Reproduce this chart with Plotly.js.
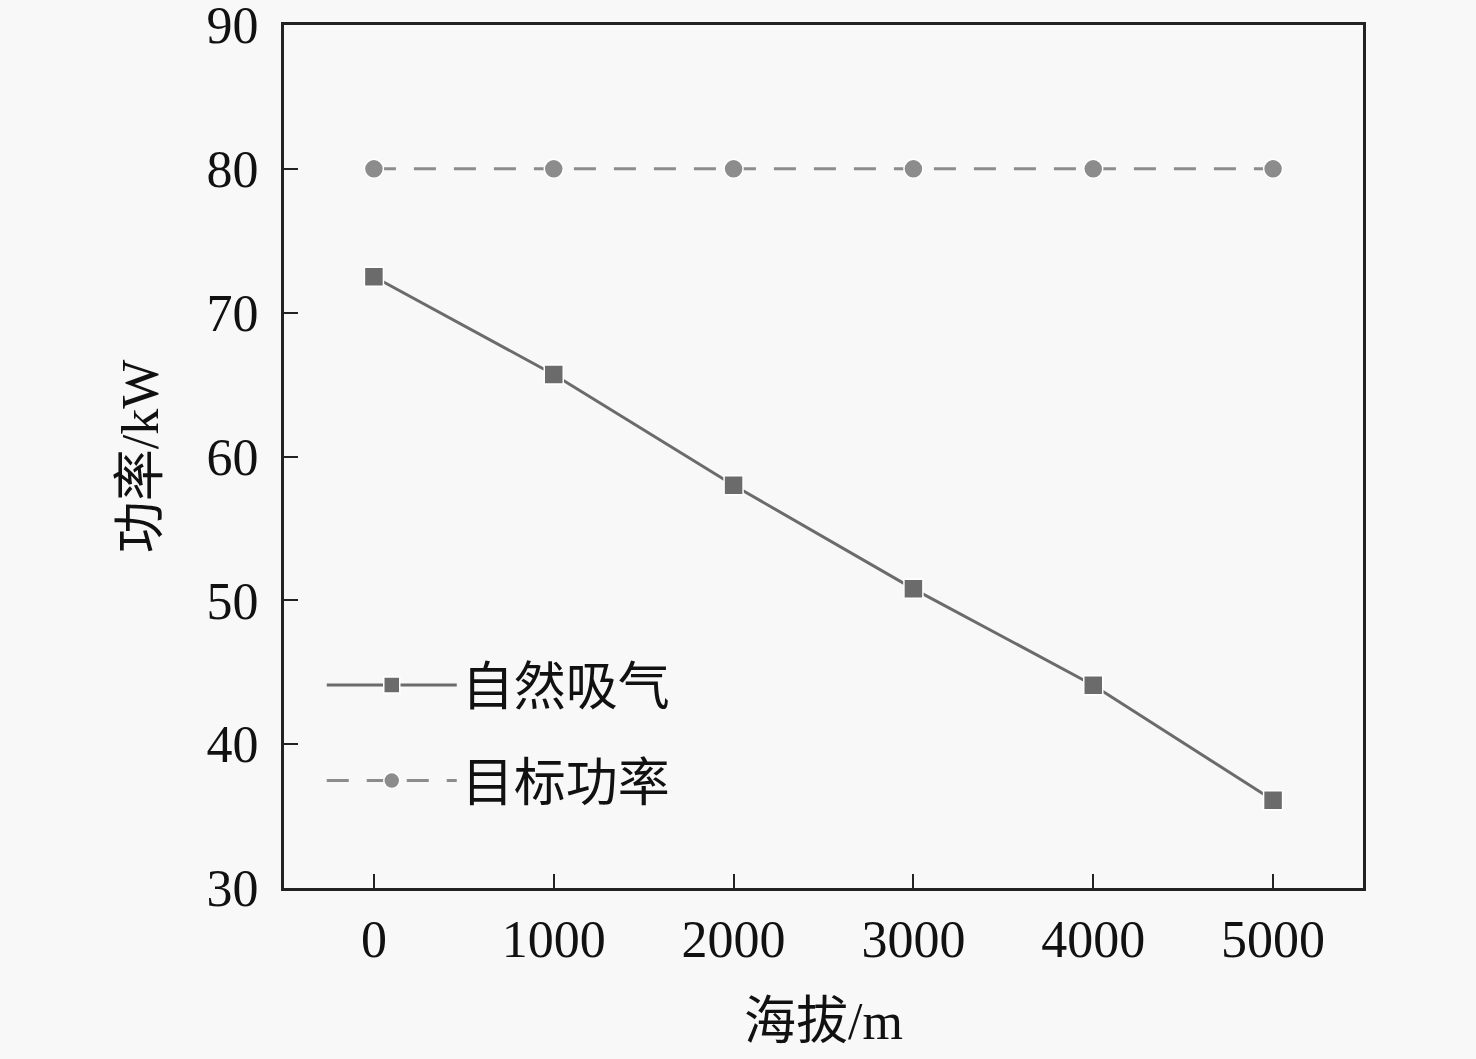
<!DOCTYPE html>
<html>
<head>
<meta charset="utf-8">
<script src="https://cdn.plot.ly/plotly-3.0.1.min.js"></script>
<style>
  html, body { margin: 0; padding: 0; background: #f8f8f8; }
  #chart { width: 1476px; height: 1059px; }
</style>
</head>
<body>
<div id="chart"></div>
<script>
// altitude (m) and power (kW)
var altitude = [0, 1000, 2000, 3000, 4000, 5000];
var naturalPower = [72.5, 65.7, 58.0, 50.8, 44.1, 36.1];
var targetPower = [80, 80, 80, 80, 80, 80];
var names = ['自然吸气', '目标功率'];

var fontFam = '"Liberation Serif", "Times New Roman", "Noto Sans CJK SC", serif';

var natural = {
  x: altitude,
  y: naturalPower,
  name: names[0],
  legendgroup: 'a',
  mode: 'lines+markers',
  type: 'scatter',
  line: {color: '#6b6b6b', width: 3},
  marker: {color: '#6b6b6b', size: 19, symbol: 'square', line: {color: '#ffffff', width: 1.5}}
};

var target = {
  x: altitude,
  y: targetPower,
  name: names[1],
  legendgroup: 'b',
  mode: 'lines+markers',
  type: 'scatter',
  line: {color: '#8c8c8c', width: 3, dash: '22px,18px'},
  marker: {color: '#8c8c8c', size: 19, symbol: 'circle', line: {color: '#ffffff', width: 1.5}}
};

var layout = {
  width: 1476,
  height: 1059,
  margin: {l: 284, r: 113, t: 25, b: 171, pad: 0},
  paper_bgcolor: '#f8f8f8',
  plot_bgcolor: '#f8f8f8',
  font: {family: fontFam, size: 52, color: '#111111'},
  showlegend: true,
  legend: {
    x: 0.035, y: 0.282, xanchor: 'left', yanchor: 'top',
    bgcolor: 'rgba(0,0,0,0)',
    font: {family: fontFam, size: 52, color: '#111111'},
    traceorder: 'grouped',
    tracegroupgap: 25,
    itemwidth: 130
  },
  xaxis: {
    range: [-500, 5500],
    tickvals: altitude,
    ticks: 'inside', ticklen: 14, tickwidth: 2, tickcolor: '#222222',
    showline: true, linecolor: '#222222', linewidth: 3, mirror: true,
    showgrid: false, zeroline: false,
    ticklabelstandoff: 4,
    title: {text: '海拔/m', standoff: 36, font: {family: fontFam, size: 52}}
  },
  yaxis: {
    range: [30, 90],
    dtick: 10,
    ticks: 'inside', ticklen: 14, tickwidth: 2, tickcolor: '#222222',
    showline: true, linecolor: '#222222', linewidth: 3, mirror: true,
    showgrid: false, zeroline: false,
    ticklabeloverflow: 'allow',
    ticklabelstandoff: 12,
    title: {text: '功率/kW', standoff: 32, font: {family: fontFam, size: 52}}
  }
};

Plotly.newPlot('chart', [natural, target], layout, {displayModeBar: false, staticPlot: true});
</script>
</body>
</html>
